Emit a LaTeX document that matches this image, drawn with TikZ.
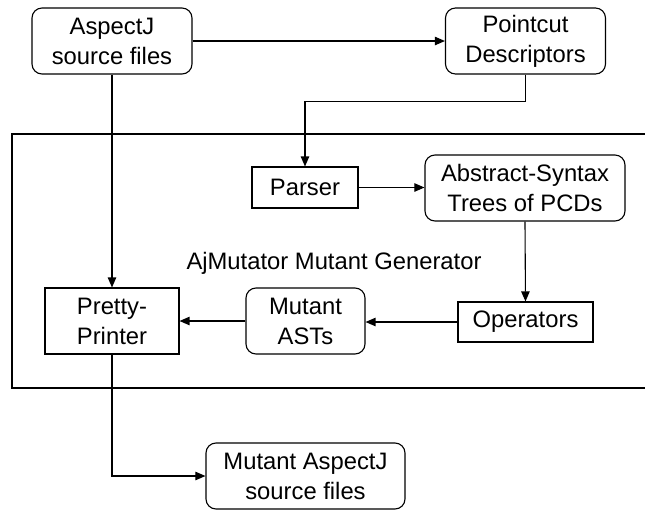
\documentclass[tikz,border=0pt]{standalone}
\usepackage{fontspec}
\setmainfont{Liberation Sans}
\usetikzlibrary{arrows.meta}
\begin{document}
\begin{tikzpicture}[x=0.5pt,y=-0.5pt,
  line width=0.55pt,
  every node/.style={font=\fontsize{11.9}{15}\selectfont, align=center, inner sep=0pt},
  rbox/.style={draw, rounded corners=5pt},
  sbox/.style={draw},
  arr/.style={-{Triangle[length=5pt,width=4.2pt]}}
]
\useasboundingbox (0,0) rectangle (645,510);
% frame of the generator (open at right)
\draw (646,134) -- (12,134) -- (12,388) -- (646,388);
\node[rbox, minimum width=80pt, minimum height=33pt] (src) at (112,41) {AspectJ\\source files};
\node[rbox, minimum width=80pt, minimum height=33pt] (pcd) at (525.5,41) {Pointcut\\Descriptors};
\node[sbox, minimum width=53pt, minimum height=20.5pt] (parser) at (305,187.5) {Parser};
\node[rbox, minimum width=100pt, minimum height=33pt] (ast) at (525,188) {Abstract-Syntax\\Trees of PCDs};
\node[sbox, minimum width=67.5pt, minimum height=20pt] (ops) at (525.5,322) {Operators};
\node[rbox, minimum width=59.5pt, minimum height=33pt] (mast) at (305.5,321) {Mutant\\ASTs};
\node[sbox, minimum width=67pt, minimum height=33pt] (pp) at (112,321) {Pretty-\\Printer};
\node[rbox, minimum width=99.5pt, minimum height=33pt] (out) at (305.5,476) {Mutant AspectJ\\source files};
\node (lbl) at (334,263) {AjMutator Mutant Generator};
\draw[arr] (src.east) -- (pcd.west);
\draw[arr] (pcd.south) -- ++(0,27) -| (parser.north);
\draw[arr] (parser.east) -- (ast.west |- parser.east);
\draw[arr] (ast.south) -- (ops.north);
\draw[arr] (ops.west) -- (mast.east |- ops.west);
\draw[arr] (mast.west) -- (pp.east |- mast.west);
\draw[arr] (src.south) -- (pp.north);
\draw[arr] (pp.south) |- (out.west);
\end{tikzpicture}
\end{document}
